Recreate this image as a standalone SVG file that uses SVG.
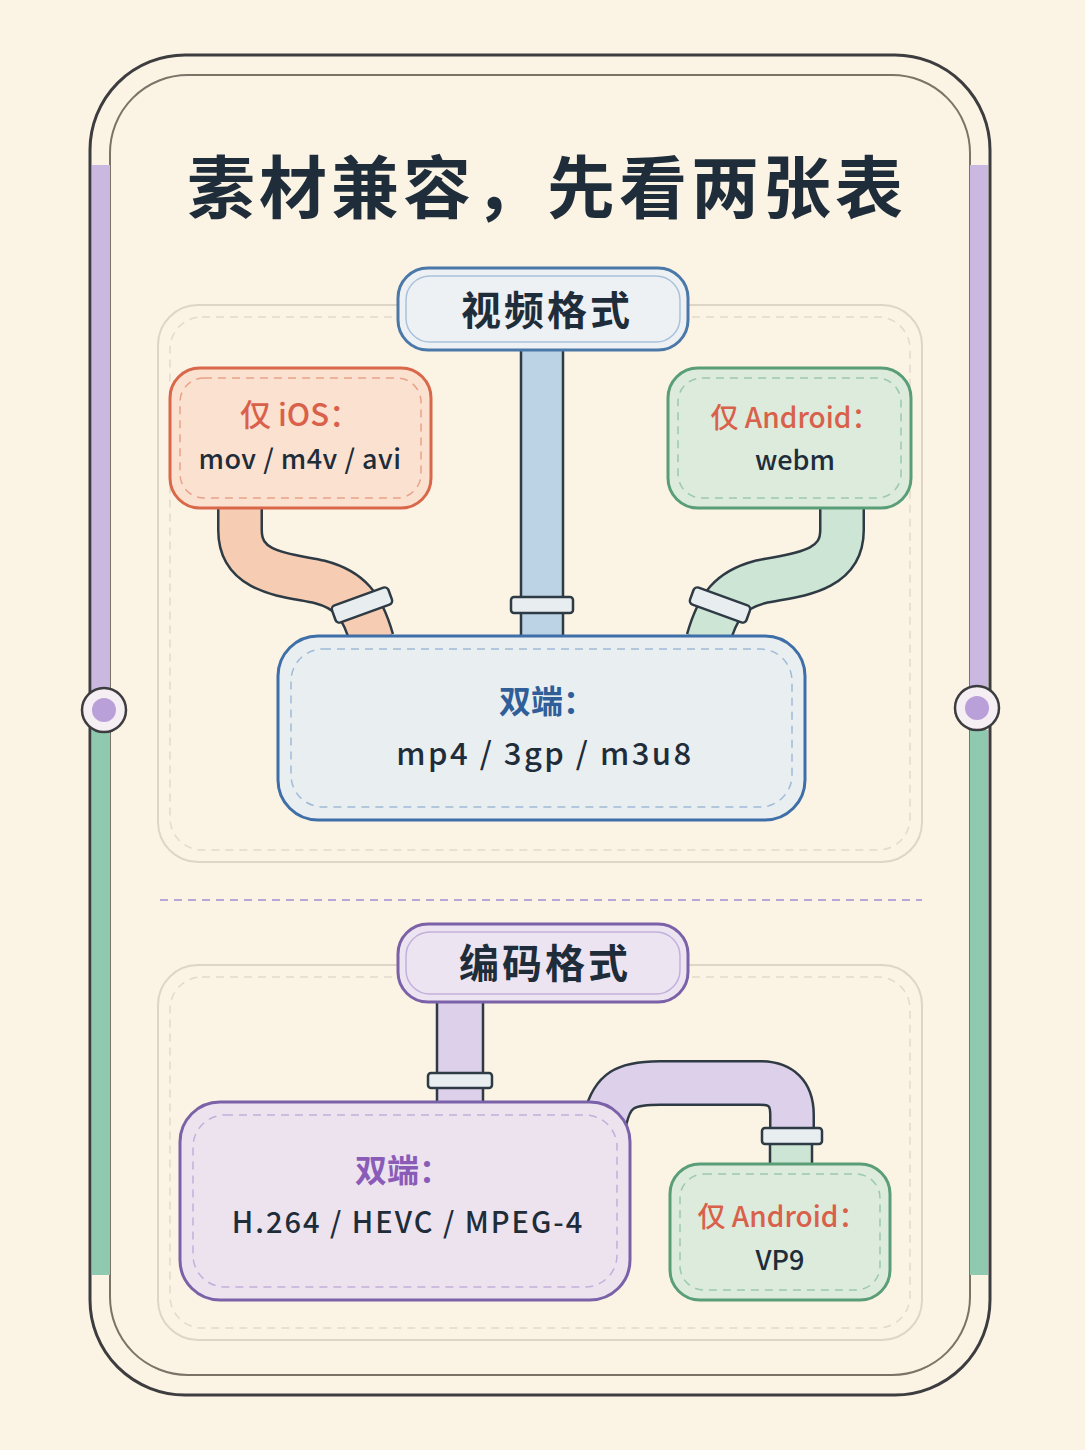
<svg xmlns="http://www.w3.org/2000/svg" width="1085" height="1450" viewBox="0 0 1085 1450">
<style>
text{font-family:"Noto Sans CJK SC","Noto Sans",sans-serif;text-anchor:middle;font-weight:500}
.dk{fill:#1f2d3a}
.edge{fill:none;stroke:#2e3a44;stroke-linecap:butt}
.collar{fill:#e8eef0;stroke:#2e3a44;stroke-width:2.5}
.panel{fill:none;stroke:#ddd6c8;stroke-width:2}
.pdash{fill:none;stroke:#e2dbcd;stroke-width:1.5;stroke-dasharray:8 6}
</style>
<rect width="1085" height="1450" fill="#fbf3e4"/>
<g id="frame">
<rect x="90" y="55" width="900" height="1340" rx="95" fill="none" stroke="#3d3d40" stroke-width="3"/>
<rect x="110" y="75" width="860" height="1300" rx="78" fill="none" stroke="#7a7468" stroke-width="2"/>
<rect x="92" y="165" width="18" height="525" fill="#cbb8e0"/>
<rect x="92" y="730" width="18" height="545" fill="#8ec9b0"/>
<rect x="970" y="165" width="18" height="525" fill="#cbb8e0"/>
<rect x="970" y="730" width="18" height="545" fill="#8ec9b0"/>
<circle cx="104" cy="710" r="22" fill="#f5eef2" stroke="#3d3d40" stroke-width="2.5"/>
<circle cx="104" cy="710" r="12" fill="#b9a0d8"/>
<circle cx="977" cy="708" r="22" fill="#f5eef2" stroke="#3d3d40" stroke-width="2.5"/>
<circle cx="977" cy="708" r="12" fill="#b9a0d8"/>
</g>
<text x="547" y="213" font-size="68" font-weight="bold" letter-spacing="4" class="dk" style="font-weight:bold">素材兼容，先看两张表</text>
<g id="panel1">
<rect x="158" y="305" width="764" height="557" rx="40" class="panel"/>
<rect x="170" y="317" width="740" height="533" rx="32" class="pdash"/>
</g>
<line x1="160" y1="900" x2="922" y2="900" stroke="#b9a7d8" stroke-width="2" stroke-dasharray="8 6"/>
<g id="panel2">
<rect x="158" y="965" width="764" height="375" rx="40" class="panel"/>
<rect x="170" y="977" width="740" height="351" rx="32" class="pdash"/>
</g>
<g id="connectors">
<rect x="521" y="345" width="42" height="295" fill="#bcd3e6" stroke="#2e3a44" stroke-width="2.5"/>
<rect x="511" y="597" width="62" height="16" rx="3" class="collar"/>
<path d="M240,505 L240,530 C240,575 290,575 320,582 C350,590 362,605 372,640" class="edge" stroke-width="46"/>
<path d="M240,505 L240,530 C240,575 290,575 320,582 C350,590 362,605 372,640" fill="none" stroke="#f6cdb2" stroke-width="41"/>
<rect x="332" y="596" width="60" height="18" rx="4" class="collar" transform="rotate(-20 362 605)"/>
<path d="M842,505 L842,530 C842,575 790,575 760,582 C730,590 718,605 708,640" class="edge" stroke-width="46"/>
<path d="M842,505 L842,530 C842,575 790,575 760,582 C730,590 718,605 708,640" fill="none" stroke="#cde5d4" stroke-width="41"/>
<rect x="690" y="596" width="60" height="18" rx="4" class="collar" transform="rotate(20 720 605)"/>
<rect x="437" y="998" width="46" height="108" fill="#ddd0ea" stroke="#2e3a44" stroke-width="2.5"/>
<rect x="428" y="1073" width="64" height="15" rx="3" class="collar"/>
<path d="M605,1120 C612,1090 625,1083 660,1083 L760,1083 Q792,1083 792,1115 L792,1140" class="edge" stroke-width="46"/>
<path d="M605,1120 C612,1090 625,1083 660,1083 L760,1083 Q792,1083 792,1115 L792,1140" fill="none" stroke="#ddd0ea" stroke-width="41"/>
<rect x="770" y="1140" width="42" height="28" fill="#cde5d4" stroke="#2e3a44" stroke-width="2.5"/>
<rect x="762" y="1128" width="60" height="16" rx="3" class="collar"/>
</g>
<g id="hdr1">
<rect x="398" y="268" width="290" height="82" rx="30" fill="#eef1f3" stroke="#4a78a8" stroke-width="3"/>
<rect x="406" y="276" width="274" height="66" rx="24" fill="none" stroke="#a9c2dc" stroke-width="1.5"/>
<text x="547" y="325" font-size="40" letter-spacing="3" class="dk" style="font-weight:bold">视频格式</text>
</g>
<g id="ios">
<rect x="170" y="368" width="261" height="140" rx="30" fill="#fbe1cf" stroke="#d9684a" stroke-width="3"/>
<rect x="180" y="378" width="241" height="120" rx="24" fill="none" stroke="#e8a28a" stroke-width="1.5" stroke-dasharray="8 6"/>
<text x="300" y="426" font-size="31" fill="#d9604a">仅 iOS：</text>
<text x="300" y="469" font-size="27" letter-spacing="0.5" class="dk">mov / m4v / avi</text>
</g>
<g id="android1">
<rect x="668" y="368" width="243" height="140" rx="30" fill="#dcebdc" stroke="#5a9e78" stroke-width="3"/>
<rect x="678" y="378" width="223" height="120" rx="24" fill="none" stroke="#9cc9ae" stroke-width="1.5" stroke-dasharray="8 6"/>
<text x="795" y="428" font-size="28" fill="#d9604a">仅 Android：</text>
<text x="795" y="470" font-size="27" class="dk">webm</text>
</g>
<g id="both1">
<rect x="278" y="636" width="527" height="184" rx="40" fill="#e9eef0" stroke="#3e6fa8" stroke-width="3"/>
<rect x="291" y="649" width="501" height="158" rx="32" fill="none" stroke="#9fbbd8" stroke-width="1.5" stroke-dasharray="8 6"/>
<text x="547" y="713" font-size="32" fill="#2f5e99" style="font-weight:bold">双端：</text>
<text x="545" y="765" font-size="31" letter-spacing="2.5" class="dk">mp4 / 3gp / m3u8</text>
</g>
<g id="hdr2">
<rect x="398" y="924" width="290" height="78" rx="30" fill="#ece4f0" stroke="#7b62a8" stroke-width="3"/>
<rect x="406" y="932" width="274" height="62" rx="24" fill="none" stroke="#c2b0dc" stroke-width="1.5"/>
<text x="545" y="978" font-size="40" letter-spacing="3" class="dk" style="font-weight:bold">编码格式</text>
</g>
<g id="both2">
<rect x="180" y="1102" width="450" height="198" rx="40" fill="#ece3ef" stroke="#7b62a8" stroke-width="3"/>
<rect x="193" y="1115" width="424" height="172" rx="32" fill="none" stroke="#c2b0dc" stroke-width="1.5" stroke-dasharray="8 6"/>
<text x="403" y="1182" font-size="32" fill="#8a5cb8" style="font-weight:bold">双端：</text>
<text x="408" y="1233" font-size="29" letter-spacing="2" class="dk">H.264 / HEVC / MPEG-4</text>
</g>
<g id="android2">
<rect x="670" y="1164" width="220" height="136" rx="30" fill="#dcebdc" stroke="#5a9e78" stroke-width="3"/>
<rect x="680" y="1174" width="200" height="116" rx="24" fill="none" stroke="#9cc9ae" stroke-width="1.5" stroke-dasharray="8 6"/>
<text x="782" y="1227" font-size="28" fill="#d9604a">仅 Android：</text>
<text x="780" y="1270" font-size="27" class="dk">VP9</text>
</g>
</svg>
